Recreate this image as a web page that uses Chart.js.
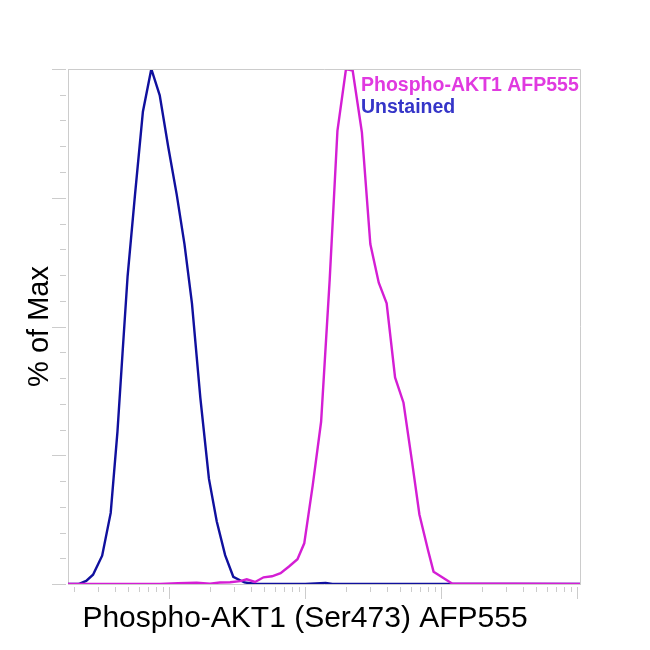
<!DOCTYPE html>
<html lang="en">
<head>
  <meta charset="UTF-8" />
  <title>Phospho-AKT1 histogram</title>
  <script src="https://cdn.jsdelivr.net/npm/chart.js"></script>
  <style>
    html, body { margin: 0; padding: 0; background: #fff; }
    #wrap { width: 650px; height: 650px; }
  </style>
</head>
<body>
  <div id="wrap"><canvas id="histo" width="650" height="650"></canvas></div>

  <script>
    // Stained sample (magenta) - intensity vs % of max
    const stainedX = [18, 85.5, 116, 159, 199.5, 236, 280, 332, 371.5, 427.6, 494, 570, 659, 760, 877, 984,
                      1135, 1309, 1514, 1726, 1995, 2234, 2612, 3013, 3475, 3972, 4581, 5284, 6109, 6918,
                      7998, 8790, 12023, 105000];
    const stainedY = [0, 0, 0.15, 0.25, 0.05, 0.3, 0.35, 0.55, 0.9, 0.4, 1.3, 1.5, 2.1, 3.4, 4.8, 7.9,
                      19.1, 31.5, 59.1, 88.0, 100, 99.7, 87.7, 66.0, 58.5, 54.5, 40.1, 35.2, 23.7, 13.5,
                      6.6, 2.4, 0.1, 0];

    // Unstained control (blue)
    const unstainedX = [18, 21.5, 24.5, 27.5, 32.1, 37.1, 41.6, 45.3, 49.4, 56.0, 64.0, 73.8, 85.1, 98.4,
                        113.5, 129.4, 146.9, 169.4, 195.9, 223.4, 257.6, 295.8, 357.3, 434.5, 1000, 1413,
                        1585, 10000, 105000];
    const unstainedY = [0, 0, 0.6, 1.8, 5.5, 13.8, 29.6, 44.7, 59.8, 75.6, 91.7, 100, 94.9, 84.8,
                        75.6, 66.0, 54.5, 36.1, 20.4, 12.2, 5.6, 1.4, 0.3, 0, 0, 0.2,
                        0, 0, 0];

    const seriesNames = ['Phospho-AKT1 AFP555', 'Unstained'];

    // tick marks: log decades on x, every 5% on y
    const xMinorTicks = [20, 30, 40, 50, 60, 70, 80, 90,
                         200, 300, 400, 500, 600, 700, 800, 900,
                         2000, 3000, 4000, 5000, 6000, 7000, 8000, 9000,
                         20000, 30000, 40000, 50000, 60000, 70000, 80000, 90000];
    const xMajorTicks = [100, 1000, 10000, 100000];
    const yMinorTicks = [5, 10, 15, 20, 30, 35, 40, 45, 55, 60, 65, 70, 80, 85, 90, 95];
    const yMajorTicks = [0, 25, 50, 75, 100];

    const toPoints = (xs, ys) => xs.map((x, i) => ({ x: x, y: ys[i] }));

    const GRAY = '#cccccc';
    const FONT = '"Liberation Sans", Arial, sans-serif';

    // frame, tick marks, titles and legend text
    const decorations = {
      id: 'decorations',
      afterDraw(chart) {
        const ctx = chart.ctx;
        const area = chart.chartArea;
        const xs = chart.scales.x;
        const ys = chart.scales.y;

        ctx.save();
        ctx.strokeStyle = GRAY;
        ctx.lineWidth = 1;

        // top and right edges of the frame
        ctx.beginPath();
        ctx.moveTo(area.left, area.top + 0.5);
        ctx.lineTo(area.right + 0.5, area.top + 0.5);
        ctx.lineTo(area.right + 0.5, area.bottom);
        ctx.stroke();

        ctx.beginPath();
        xMinorTicks.forEach(v => {
          const px = Math.round(xs.getPixelForValue(v)) + 0.5;
          ctx.moveTo(px, area.bottom + 3);
          ctx.lineTo(px, area.bottom + 8);
        });
        xMajorTicks.forEach(v => {
          const px = Math.round(xs.getPixelForValue(v)) + 0.5;
          ctx.moveTo(px, area.bottom + 3);
          ctx.lineTo(px, area.bottom + 15);
        });
        yMinorTicks.forEach(v => {
          const py = Math.round(ys.getPixelForValue(v)) + 0.5;
          ctx.moveTo(area.left - 8, py);
          ctx.lineTo(area.left - 2, py);
        });
        yMajorTicks.forEach(v => {
          const py = Math.round(ys.getPixelForValue(v)) + 0.5;
          ctx.moveTo(area.left - 16, py);
          ctx.lineTo(area.left - 2, py);
        });
        ctx.stroke();

        // axis titles
        ctx.fillStyle = '#000';
        ctx.font = '30px ' + FONT;
        ctx.textAlign = 'center';
        ctx.textBaseline = 'alphabetic';
        ctx.fillText('Phospho-AKT1 (Ser473) AFP555', (area.left + area.right) / 2 - 19, area.bottom + 43);

        ctx.save();
        ctx.translate(area.left - 20, (area.top + area.bottom) / 2);
        ctx.rotate(-Math.PI / 2);
        ctx.font = '29px ' + FONT;
        ctx.fillText('% of Max', 0, 0);
        ctx.restore();

        // legend
        ctx.font = 'bold 19.5px ' + FONT;
        ctx.textAlign = 'left';
        ctx.fillStyle = '#e03ae0';
        ctx.fillText(seriesNames[0], area.left + 293, area.top + 22);
        ctx.fillStyle = '#3535c8';
        ctx.fillText(seriesNames[1], area.left + 293, area.top + 44);
        ctx.restore();
      }
    };

    const histoCtx = document.getElementById('histo').getContext('2d');
    const histoChart = new Chart(histoCtx, {
      type: 'scatter',
      data: {
        datasets: [{
          label: seriesNames[0],
          data: toPoints(stainedX, stainedY),
          showLine: true,
          borderColor: '#d41ed4',
          borderWidth: 2.4,
          pointRadius: 0,
          tension: 0
        }, {
          label: seriesNames[1],
          data: toPoints(unstainedX, unstainedY),
          showLine: true,
          borderColor: '#10109e',
          borderWidth: 2.4,
          pointRadius: 0,
          tension: 0
        }]
      },
      options: {
        responsive: false,
        animation: false,
        layout: { padding: { left: 68, top: 69, right: 70, bottom: 66 } },
        scales: {
          x: {
            type: 'logarithmic',
            min: 18,
            max: 105000,
            ticks: { display: false },
            grid: { display: false, drawTicks: false },
            border: { display: true, color: GRAY, width: 1 }
          },
          y: {
            min: 0,
            max: 100,
            ticks: { display: false },
            grid: { display: false, drawTicks: false },
            border: { display: true, color: GRAY, width: 1 }
          }
        },
        plugins: {
          legend: { display: false },
          tooltip: { enabled: false }
        }
      },
      plugins: [decorations]
    });
  </script>
</body>
</html>
